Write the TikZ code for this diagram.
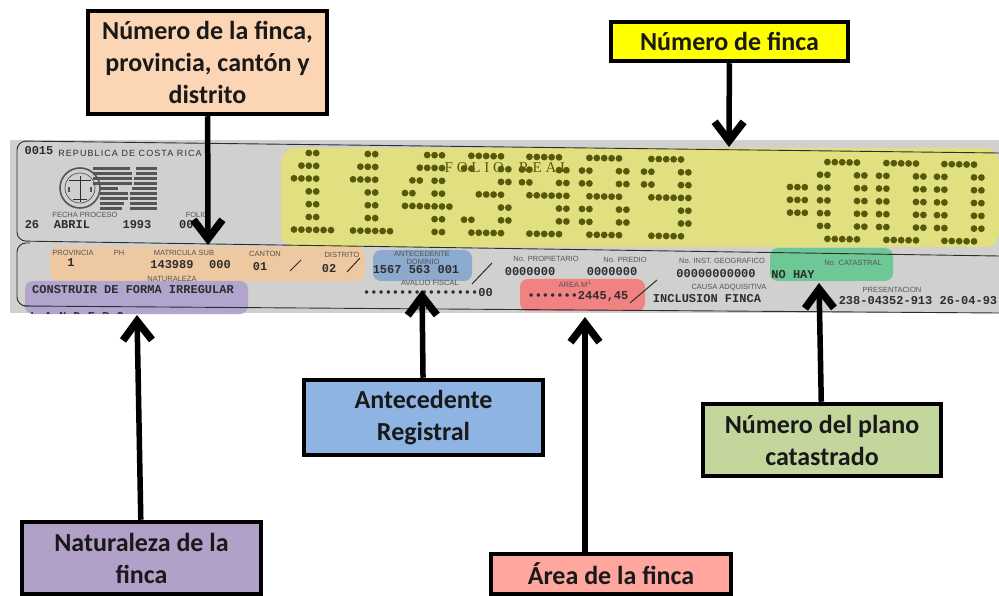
\documentclass[tikz,border=0pt]{standalone}
\usepackage{fontspec}
\setmainfont{Carlito}
\newfontfamily\formsans{Liberation Sans}
\newfontfamily\formspaced[LetterSpace=12]{Liberation Sans}
\newfontfamily\formmono{Liberation Mono}
\newfontfamily\formserif{Liberation Serif}
\usetikzlibrary{arrows.meta}
\definecolor{bandgray}{RGB}{208,208,206}
\definecolor{inkgray}{RGB}{85,85,85}
\definecolor{inkdark}{RGB}{45,45,45}
\definecolor{dotolive}{RGB}{88,88,10}
\definecolor{markyellow}{RGB}{224,224,128}
\definecolor{markorange}{RGB}{238,200,160}
\definecolor{markpurple}{RGB}{178,165,205}
\definecolor{markblue}{RGB}{140,170,205}
\definecolor{markred}{RGB}{240,130,130}
\definecolor{markgreen}{RGB}{110,200,150}
\definecolor{boxorange}{RGB}{252,213,180}
\definecolor{boxyellow}{RGB}{255,255,0}
\definecolor{boxblue}{RGB}{141,180,226}
\definecolor{boxgreen}{RGB}{195,214,155}
\definecolor{boxpurple}{RGB}{177,160,199}
\definecolor{boxred}{RGB}{255,166,158}
\newcommand{\dotdigit}[2]{%
  \foreach \dotcols [count=\dotrow from 0] in {#2} {
    \foreach \dotcol in \dotcols {
      \pgfmathsetmacro{\dotx}{#1+7.4*\dotcol}
      \pgfmathsetmacro{\doty}{152.7+0.0175*(\dotx-294)+12.8*\dotrow}
      \fill[dotolive] (\dotx,\doty) circle [radius=3.4];
    }
  }
}
\begin{document}
\begin{tikzpicture}[
  x=1pt, y=-1pt,
  callout/.style={draw=black, line width=4.5pt, align=center, inner sep=0pt,
    font=\fontsize{26}{32}\selectfont\bfseries, text=black!90},
  pointer/.style={line width=5.5pt, -{Straight Barb[length=19pt,width=29pt,line width=7.5pt]}},
  form label/.style={font=\formsans\fontsize{7.5}{8}\selectfont, text=inkgray, inner sep=0pt},
  form value/.style={font=\formmono\bfseries\fontsize{12}{12}\selectfont, text=inkdark, inner sep=0pt},
  form line/.style={draw=inkdark, line width=0.9pt},
  form slash/.style={draw=inkdark, line width=1pt},
]
  \useasboundingbox (0,0) rectangle (999,596);
  \fill[bandgray] (10,140) rectangle (999,313);
  \fill[markorange, rounded corners=8] (50,247) rectangle (365,281);
  \fill[markpurple, rounded corners=8] (25,281) rectangle (248,314);
  \fill[markblue, rounded corners=8] (373,250) rectangle (472,281);
  \fill[markred, rounded corners=8] (520,279) rectangle (645,311);
  \fill[markgreen, rounded corners=8] (770,248) rectangle (893,281);
  \fill[markyellow, rounded corners=14] (281,148) rectangle (999,247);

  \draw[form line, rounded corners=9] (999,153) -- (17,141) -- (17,241) -- (999,256);
  \draw[form line, rounded corners=9] (30,243) -- (17,243) -- (17,306) -- (30,306);
  \draw[form line] (24,306) -- (999,313);

  % folio digits
  \dotdigit{294}{{2,3},{1,2,3},{0,1,2,3},{2,3},{2,3},{2,3},{0,1,2,3,4,5}}
  \dotdigit{353}{{2,3},{1,2,3},{0,1,2,3},{2,3},{2,3},{2,3},{0,1,2,3,4,5}}
  \dotdigit{405}{{3,4,5},{2,3,4,5},{1,2,4,5},{0,1,4,5},{0,1,2,3,4,5,6},{4,5},{4,5}}
  \dotdigit{464}{{1,2,3,4,5},{0,1,5,6},{5,6},{2,3,4,5},{5,6},{0,1,5,6},{1,2,3,4,5}}
  \dotdigit{522}{{1,2,3,4,5},{0,1,5,6},{0,1,5,6},{1,2,3,4,5,6},{5,6},{5,6},{1,2,3,4,5}}
  \dotdigit{582}{{1,2,3,4,5},{0,1,5,6},{0,1,5,6},{1,2,3,4,5},{0,1,5,6},{0,1,5,6},{1,2,3,4,5}}
  \dotdigit{644}{{1,2,3,4,5},{0,1,5,6},{0,1,5,6},{1,2,3,4,5,6},{5,6},{5,6},{1,2,3,4,5}}
  \dotdigit{790}{{},{},{0,1,2},{0,1,2},{0,1,2}}
  \dotdigit{820}{{1,2,3,4,5},{0,1,5,6},{0,1,5,6},{0,1,5,6},{0,1,5,6},{0,1,5,6},{1,2,3,4,5}}
  \dotdigit{879}{{1,2,3,4,5},{0,1,5,6},{0,1,5,6},{0,1,5,6},{0,1,5,6},{0,1,5,6},{1,2,3,4,5}}
  \dotdigit{937}{{1,2,3,4,5},{0,1,5,6},{0,1,5,6},{0,1,5,6},{0,1,5,6},{0,1,5,6},{1,2,3,4,5}}
  \node[font=\formserif\fontsize{15}{15}\selectfont, text=dotolive, inner sep=0pt] (folio) at (507,168) {F O L I O\quad R E A L};

  % registry logo
  \draw[inkgray, line width=1.6pt] (80,188) circle [radius=20];
  \draw[inkgray, line width=0.7pt] (80,188) circle [radius=15];
  \draw[inkdark, line width=1pt] (69,181) -- (91,181) (80,176) -- (80,202) (73,200) -- (87,200);
  \draw[inkgray, line width=2.5pt] (69,187) -- (69,192) (91,187) -- (91,192);
  \foreach \stripey/\stripex in {169/130,174/132,179/132,184/132,189/118,194/128,199/128,204/124,209/122} {
    \draw[inkgray, line width=3pt] (\ifnum\stripey<189 93\else 100\fi,\stripey) -- (\stripex,\stripey);
  }
  \foreach \stripey/\startx in {169/136,174/136,179/134,184/134,189/132,194/130,199/130,204/130,209/130} {
    \draw[inkgray, line width=3pt] (\startx,\stripey) -- (157,\stripey);
  }

  \foreach \labelx/\labely/\labelname/\labeltext in {
    85/215/fechalabel/FECHA PROCESO, 197/215/foliolabel/FOLIO,
    73/253/provincialabel/PROVINCIA, 119/253/phlabel/PH, 184/253/matriculalabel/MATRICULA SUB,
    265/254/cantonlabel/CANTON, 342/255/distritolabel/DISTRITO, 172/279/naturalezalabel/NATURALEZA,
    422/254/antecedentelabel/ANTECEDENTE, 423/262/dominiolabel/DOMINIO, 430/283/avaluolabel/AVALUO FISCAL,
    546/259/propietariolabel/No. PROPIETARIO, 625/260/prediolabel/No. PREDIO,
    722/261/geograficolabel/No. INST. GEOGRAFICO, 853/263/catastrallabel/No. CATASTRAL,
    575/284/arealabel/AREA M$^2$, 729/288/causalabel/CAUSA ADQUISITIVA, 892/290/presentacionlabel/PRESENTACION
  } {
    \node[form label] (\labelname) at (\labelx,\labely) {\labeltext};
  }
  \node[form label, font=\formspaced\fontsize{9}{9}\selectfont, text=inkdark] (republica) at (130,153) {REPUBLICA DE COSTA RICA};

  \foreach \valuex/\valuey/\valuename/\valuetext in {
    39/151/codevalue/0015, 32/225/dayvalue/26, 72/225/monthvalue/ABRIL, 137/225/yearvalue/1993, 190/225/foliovalue/001,
    71/263/provinciavalue/1, 172/265/matriculavalue/143989, 220/265/subvalue/000, 260/267/cantonvalue/01, 329/269/distritovalue/02,
    133/290/naturalezavalue/CONSTRUIR DE FORMA IRREGULAR, 416/270/antecedentevalue/1567 563 001, 428/293/avaluovalue/{••••••••••••••••00},
    530/272/propietariovalue/0000000, 612/272/prediovalue/0000000, 716/274/geograficovalue/00000000000, 793/275/catastralvalue/NO HAY,
    578/297/areavalue/{•••••••2445,45}, 707/299/causavalue/INCLUSION FINCA, 918/301/presentacionvalue/238-04352-913 26-04-93
  } {
    \node[form value] (\valuename) at (\valuex,\valuey) {\valuetext};
  }
  \begin{scope}
    \clip (10,306) rectangle (130,313);
    \node[form value, anchor=west] (landeros) at (30,317) {L A N D E R O S};
  \end{scope}
  \draw[form slash] (290,271) -- (301,260) (347,272) -- (360,258) (472,284) -- (492,263) (630,303) -- (657,280);

  % callouts
  \node[callout, fill=boxorange, minimum width=239pt, minimum height=103pt] (fincabox) at (207.5,62.5) {Número de la finca,\\provincia, cantón y\\distrito};
  \node[callout, fill=boxyellow, minimum width=237pt, minimum height=39pt] (numerobox) at (729.5,41.5) {Número de finca};
  \node[callout, fill=boxblue, minimum width=239pt, minimum height=75pt] (antecedentebox) at (423.5,417.5) {Antecedente\\Registral};
  \node[callout, fill=boxgreen, minimum width=238pt, minimum height=72pt] (planobox) at (822,440) {Número del plano\\catastrado};
  \node[callout, fill=boxpurple, minimum width=239pt, minimum height=72pt] (naturalezabox) at (141.5,558) {Naturaleza de la\\finca};
  \node[callout, fill=boxred, minimum width=240pt, minimum height=40pt] (areabox) at (611,574) {Área de la finca};

  \coordinate (fincatip) at (208,245);
  \coordinate (numerotip) at (729,147);
  \coordinate (antecedentetip) at (422,290);
  \coordinate (planotip) at (819,283);
  \coordinate (naturalezatip) at (137,315);
  \coordinate (areatip) at (585,317);
  \draw[pointer] (fincabox) -- (fincatip);
  \draw[pointer] (numerobox) -- (numerotip);
  \draw[pointer] (antecedentebox) -- (antecedentetip);
  \draw[pointer] (planobox) -- (planotip);
  \draw[pointer] (naturalezabox) -- (naturalezatip);
  \draw[pointer] (areabox.north -| areatip) -- (areatip);
\end{tikzpicture}
\end{document}
